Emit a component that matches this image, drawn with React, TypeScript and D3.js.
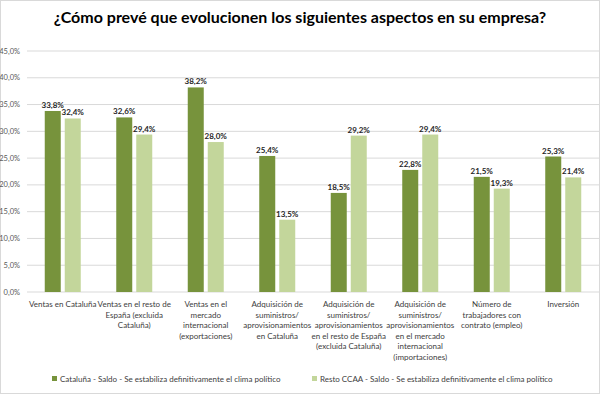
import React from "react";
import * as d3 from "d3";

const categories = [
  ["Ventas en Cataluña"],
  ["Ventas en el resto de", "España (excluida", "Cataluña)"],
  ["Ventas en el", "mercado", "internacional", "(exportaciones)"],
  ["Adquisición de", "suministros/", "aprovisionamientos", "en Cataluña"],
  ["Adquisición de", "suministros/", "aprovisionamientos", "en el resto de España", "(excluida Cataluña)"],
  ["Adquisición de", "suministros/", "aprovisionamientos", "en el mercado", "internacional", "(importaciones)"],
  ["Número de", "trabajadores con", "contrato (empleo)"],
  ["Inversión"],
];

const seriesNames = [
  "Cataluña - Saldo - Se estabiliza definitivamente el clima político",
  "Resto CCAA - Saldo - Se estabiliza definitivamente el clima político",
];
const cataluna = [33.8, 32.6, 38.2, 25.4, 18.5, 22.8, 21.5, 25.3];
const resto = [32.4, 29.4, 28.0, 13.5, 29.2, 29.4, 19.3, 21.4];
const colors = ["#77933C", "#C3D69B"];
const yTicks = [0, 5, 10, 15, 20, 25, 30, 35, 40, 45];

const W = 600;
const H = 394;
const font = "Lato, 'Open Sans', sans-serif";
const fmt = (v: number) => v.toFixed(1).replace(".", ",") + "%";

export default function App() {
  const keys = categories.map((c) => c.join(" "));
  const x0 = d3.scaleBand().domain(keys).range([27, 599]);
  const bw = x0.bandwidth();
  const x1 = d3
    .scaleBand()
    .domain(["0", "1"])
    .range([bw / 2 - 18, bw / 2 + 18])
    .paddingInner(0.2);
  const y = d3.scaleLinear().domain([0, 45]).range([292, 51]);
  const series = [cataluna, resto];

  return (
    <svg
      width={W}
      height={H}
      style={{ position: "absolute", left: 0, top: 0, background: "#fff" }}
    >
      <rect x={0.5} y={0.5} width={W - 1} height={H - 1} fill="#fff" stroke="#d9d9d9" />
      <text
        x={300}
        y={23}
        textAnchor="middle"
        fontFamily={font}
        fontWeight="bold"
        fontSize={16}
        fill="#000"
      >
        ¿Cómo prevé que evolucionen los siguientes aspectos en su empresa?
      </text>

      {/* gridlines + y labels */}
      {yTicks.map((t) => (
        <g key={t}>
          <line x1={27} x2={599} y1={y(t)} y2={y(t)} stroke="#d9d9d9" strokeWidth={1} />
          <text
            x={20}
            y={y(t) + 2.5}
            textAnchor="end"
            fontFamily={font}
            fontSize={7.5}
            fill="#595959"
          >
            {fmt(t)}
          </text>
        </g>
      ))}

      {/* bars */}
      {keys.map((k, i) => (
        <g key={k} transform={`translate(${x0(k)},0)`}>
          {series.map((s, j) => (
            <g key={j}>
              <rect
                x={x1(String(j))}
                y={y(s[i])}
                width={x1.bandwidth()}
                height={y(0) - y(s[i])}
                fill={colors[j]}
              />
              <text
                x={(x1(String(j)) as number) + x1.bandwidth() / 2}
                y={y(s[i]) - 3}
                textAnchor="middle"
                fontFamily={font}
                fontWeight="bold"
                fontSize={8}
                fill="#262626"
              >
                {fmt(s[i])}
              </text>
            </g>
          ))}
          <text
            textAnchor="middle"
            fontFamily={font}
            fontSize={8}
            fill="#404040"
          >
            {categories[i].map((line, li) => (
              <tspan key={li} x={bw / 2} y={307 + li * 10.5}>
                {line}
              </tspan>
            ))}
          </text>
        </g>
      ))}

      {/* legend */}
      {seriesNames.map((n, j) => {
        const lx = j === 0 ? 52 : 312;
        return (
          <g key={n}>
            <rect x={lx} y={376} width={5} height={5} fill={colors[j]} />
            <text x={lx + 8} y={381.5} fontFamily={font} fontSize={8} fill="#404040">
              {n}
            </text>
          </g>
        );
      })}
    </svg>
  );
}
